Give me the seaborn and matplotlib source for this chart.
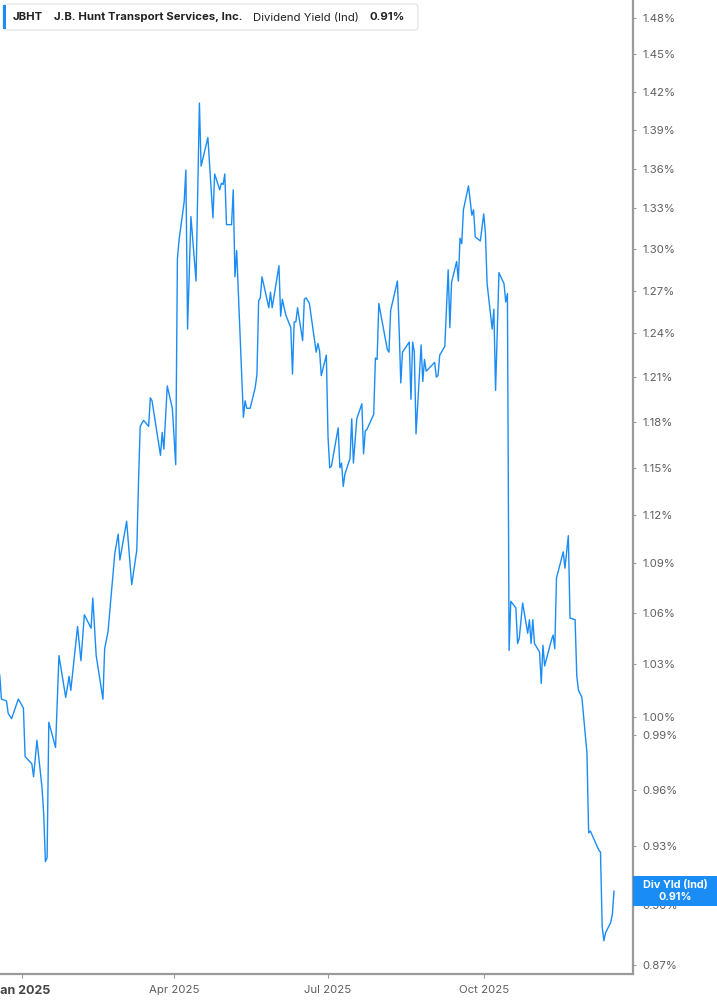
import matplotlib
matplotlib.use("Agg")
import matplotlib.pyplot as plt
import seaborn as sns
import pandas as pd
from matplotlib.patches import FancyBboxPatch, Rectangle
from matplotlib.ticker import FixedLocator, NullLocator

# ---------------- data ----------------
dates = [
    "2024-12-19", "2024-12-20", "2024-12-23", "2024-12-24", "2024-12-26", "2024-12-30",
    "2025-01-02", "2025-01-03", "2025-01-07", "2025-01-08", "2025-01-10", "2025-01-13",
    "2025-01-14", "2025-01-15", "2025-01-16", "2025-01-17", "2025-01-21", "2025-01-23",
    "2025-01-27", "2025-01-29", "2025-01-30", "2025-02-03", "2025-02-05", "2025-02-07",
    "2025-02-11", "2025-02-12", "2025-02-14", "2025-02-18", "2025-02-19", "2025-02-21",
    "2025-02-25", "2025-02-27", "2025-02-28", "2025-03-04", "2025-03-07", "2025-03-10",
    "2025-03-11", "2025-03-12", "2025-03-14", "2025-03-17", "2025-03-18", "2025-03-19",
    "2025-03-24", "2025-03-25", "2025-03-26", "2025-03-28", "2025-03-31", "2025-04-02",
    "2025-04-03", "2025-04-04", "2025-04-07", "2025-04-08", "2025-04-09", "2025-04-11",
    "2025-04-14", "2025-04-16", "2025-04-17", "2025-04-21", "2025-04-24", "2025-04-25",
    "2025-04-28", "2025-04-29", "2025-04-30", "2025-05-01", "2025-05-02", "2025-05-05",
    "2025-05-06", "2025-05-07", "2025-05-08", "2025-05-12", "2025-05-13", "2025-05-14",
    "2025-05-16", "2025-05-19", "2025-05-20", "2025-05-21", "2025-05-22", "2025-05-23",
    "2025-05-27", "2025-05-28", "2025-05-29", "2025-06-02", "2025-06-03", "2025-06-04",
    "2025-06-06", "2025-06-09", "2025-06-10", "2025-06-11", "2025-06-12", "2025-06-13",
    "2025-06-16", "2025-06-17", "2025-06-18", "2025-06-20", "2025-06-24", "2025-06-25",
    "2025-06-26", "2025-06-27", "2025-06-30", "2025-07-01", "2025-07-02", "2025-07-03",
    "2025-07-07", "2025-07-08", "2025-07-09", "2025-07-10", "2025-07-11", "2025-07-14",
    "2025-07-15", "2025-07-16", "2025-07-18", "2025-07-21", "2025-07-22", "2025-07-23",
    "2025-07-24", "2025-07-28", "2025-07-29", "2025-07-30", "2025-07-31", "2025-08-05",
    "2025-08-06", "2025-08-07", "2025-08-11", "2025-08-12", "2025-08-13", "2025-08-14",
    "2025-08-18", "2025-08-19", "2025-08-20", "2025-08-21", "2025-08-22", "2025-08-25",
    "2025-08-26", "2025-08-27", "2025-08-28", "2025-09-02", "2025-09-03", "2025-09-04",
    "2025-09-05", "2025-09-08", "2025-09-10", "2025-09-11", "2025-09-12", "2025-09-15",
    "2025-09-16", "2025-09-17", "2025-09-18", "2025-09-19", "2025-09-22", "2025-09-24",
    "2025-09-25", "2025-09-26", "2025-09-29", "2025-10-01", "2025-10-02", "2025-10-03",
    "2025-10-06", "2025-10-07", "2025-10-08", "2025-10-10", "2025-10-13", "2025-10-14",
    "2025-10-15", "2025-10-16", "2025-10-17", "2025-10-20", "2025-10-21", "2025-10-22",
    "2025-10-24", "2025-10-27", "2025-10-28", "2025-10-29", "2025-10-30", "2025-10-31",
    "2025-11-03", "2025-11-04", "2025-11-05", "2025-11-06", "2025-11-10", "2025-11-11",
    "2025-11-12", "2025-11-13", "2025-11-17", "2025-11-18", "2025-11-20", "2025-11-21",
    "2025-11-24", "2025-11-25", "2025-11-26", "2025-11-28", "2025-12-01", "2025-12-02",
    "2025-12-03", "2025-12-05", "2025-12-08", "2025-12-09", "2025-12-10", "2025-12-11",
    "2025-12-12", "2025-12-15", "2025-12-16", "2025-12-17",
]
div_yield = [
    1.024, 1.010, 1.009, 1.002, 0.999, 1.010,
    1.005, 0.978, 0.974, 0.967, 0.987, 0.961,
    0.947, 0.922, 0.924, 0.997, 0.983, 1.035,
    1.011, 1.023, 1.015, 1.052, 1.032, 1.059,
    1.051, 1.069, 1.035, 1.010, 1.039, 1.049,
    1.096, 1.108, 1.092, 1.116, 1.077, 1.098,
    1.140, 1.177, 1.181, 1.177, 1.196, 1.194,
    1.158, 1.173, 1.162, 1.204, 1.189, 1.152,
    1.293, 1.307, 1.335, 1.359, 1.243, 1.324,
    1.277, 1.411, 1.362, 1.384, 1.323, 1.356,
    1.344, 1.349, 1.348, 1.356, 1.318, 1.318,
    1.344, 1.280, 1.299, 1.183, 1.194, 1.189,
    1.189, 1.203, 1.212, 1.263, 1.265, 1.280,
    1.258, 1.269, 1.258, 1.288, 1.252, 1.264,
    1.253, 1.244, 1.212, 1.248, 1.248, 1.258,
    1.235, 1.264, 1.265, 1.261, 1.227, 1.233,
    1.228, 1.211, 1.225, 1.170, 1.150, 1.151,
    1.176, 1.150, 1.153, 1.138, 1.146, 1.156,
    1.182, 1.153, 1.182, 1.192, 1.159, 1.174,
    1.175, 1.185, 1.223, 1.222, 1.261, 1.229,
    1.227, 1.256, 1.277, 1.244, 1.206, 1.227,
    1.234, 1.195, 1.234, 1.227, 1.172, 1.232,
    1.207, 1.222, 1.214, 1.220, 1.210, 1.211,
    1.225, 1.231, 1.285, 1.244, 1.276, 1.291,
    1.277, 1.308, 1.304, 1.329, 1.347, 1.325,
    1.329, 1.309, 1.306, 1.326, 1.312, 1.275,
    1.243, 1.257, 1.201, 1.283, 1.275, 1.262,
    1.268, 1.038, 1.067, 1.063, 1.042, 1.045,
    1.066, 1.048, 1.056, 1.042, 1.056, 1.042,
    1.037, 1.019, 1.041, 1.029, 1.044, 1.047,
    1.039, 1.081, 1.097, 1.087, 1.107, 1.057,
    1.056, 1.023, 1.015, 1.011, 0.980, 0.937,
    0.938, 0.934, 0.928, 0.927, 0.889, 0.882,
    0.886, 0.891, 0.895, 0.907,
]
ytick_values = [0.87, 0.90, 0.93, 0.96, 0.99, 1.00, 1.03, 1.06, 1.09, 1.12, 1.15,
                1.18, 1.21, 1.24, 1.27, 1.30, 1.33, 1.36, 1.39, 1.42, 1.45, 1.48]
xtick_dates = ["2025-01-01", "2025-04-01", "2025-07-01", "2025-10-01"]
xtick_labels = ["Jan 2025", "Apr 2025", "Jul 2025", "Oct 2025"]
ticker_symbol = "JBHT"
company_name = "J.B. Hunt Transport Services, Inc."
metric_name = "Dividend Yield (Ind)"
current_label = "0.91%"
badge_title = "Div Yld (Ind)"

# ---------------- styling ----------------
sns.set_theme(style="white")
plt.rcParams["font.family"] = ["Inter", "DejaVu Sans"]

W, H = 717, 1005
BLUE = "#1a8cf5"
GRAY_AX = "#9a9a9a"
GRAY_TXT = "#5f5f5f"

fig = plt.figure(figsize=(W / 100, H / 100), dpi=100)
fig.patch.set_facecolor("white")
ax = fig.add_axes([0, (H - 974) / H, 632.5 / W, 974 / H])

df = pd.DataFrame({"date": pd.to_datetime(dates), "yield": div_yield})
sns.lineplot(data=df, x="date", y="yield", ax=ax, color=BLUE, linewidth=1.0)

ax.set_yscale("log")
ax.set_ylim(0.8657, 1.4950)
ax.set_xlim(pd.Timestamp("2024-12-19 04:00"), pd.Timestamp("2025-12-27 22:00"))

ax.yaxis.set_major_locator(FixedLocator(ytick_values))
ax.yaxis.set_minor_locator(NullLocator())
ax.set_yticklabels([f"{v:.2f}%" for v in ytick_values])
ax.yaxis.tick_right()
ax.yaxis.set_label_position("right")

ax.set_xticks(pd.to_datetime(xtick_dates))
ax.set_xticklabels(xtick_labels)
ax.xaxis.set_minor_locator(NullLocator())

ax.set_xlabel("")
ax.set_ylabel("")

for side in ["top", "left"]:
    ax.spines[side].set_visible(False)
for side in ["right", "bottom"]:
    ax.spines[side].set_visible(True)
    ax.spines[side].set_color(GRAY_AX)
    ax.spines[side].set_linewidth(1.6)

ax.tick_params(axis="y", which="major", right=True, left=False, length=2.2, width=0.8,
               color=GRAY_AX, pad=5, labelsize=8.2, labelcolor=GRAY_TXT)
ax.tick_params(axis="x", which="major", bottom=True, length=3, width=0.8,
               color=GRAY_AX, pad=5, labelsize=8.2, labelcolor=GRAY_TXT)
for lbl in ax.get_xticklabels():
    if lbl.get_text().startswith("Jan"):
        lbl.set_fontweight("bold")
        lbl.set_fontsize(9)
        lbl.set_color("#444444")
ax.grid(False)


def fx(px):
    return px / W


def fy(py):
    return 1 - py / H


# ---------------- legend header ----------------
hdr = FancyBboxPatch((fx(3), fy(30)), fx(418) - fx(3), fy(4) - fy(30),
                     boxstyle="round,pad=0,rounding_size=0.004",
                     transform=fig.transFigure, facecolor="white",
                     edgecolor="#e2e2e2", linewidth=0.8, zorder=5)
fig.add_artist(hdr)
fig.add_artist(Rectangle((fx(3), fy(29)), fx(6) - fx(3), fy(5) - fy(29),
                         transform=fig.transFigure, facecolor=BLUE,
                         edgecolor="none", zorder=6))
hy = fy(17.5)
HFS = 8.2
fig.text(fx(13), hy, ticker_symbol, fontsize=HFS, fontweight="bold",
         color="#222222", va="center", ha="left", zorder=7)
fig.text(fx(54), hy, company_name, fontsize=HFS, fontweight="bold",
         color="#222222", va="center", ha="left", zorder=7)
fig.text(fx(253), hy, metric_name, fontsize=HFS, color="#222222",
         va="center", ha="left", zorder=7)
fig.text(fx(370), hy, current_label, fontsize=HFS, fontweight="bold",
         color="#222222", va="center", ha="left", zorder=7)

# ---------------- last value badge ----------------
last_disp_y = ax.transData.transform((0, div_yield[-1]))[1]
last_py = H - last_disp_y
fig.add_artist(Rectangle((fx(633), fy(last_py + 15)), fx(717) - fx(633), fy(last_py - 15) - fy(last_py + 15),
                         transform=fig.transFigure, facecolor=BLUE,
                         edgecolor="none", zorder=8, clip_on=False))
fig.text(fx(675), fy(last_py - 6), badge_title, fontsize=7.8, fontweight="bold",
         color="white", ha="center", va="center", zorder=9)
fig.text(fx(675), fy(last_py + 6), f"{div_yield[-1]:.2f}%", fontsize=7.8, fontweight="bold",
         color="white", ha="center", va="center", zorder=9)

fig.savefig("out.png", dpi=100, facecolor="white")
